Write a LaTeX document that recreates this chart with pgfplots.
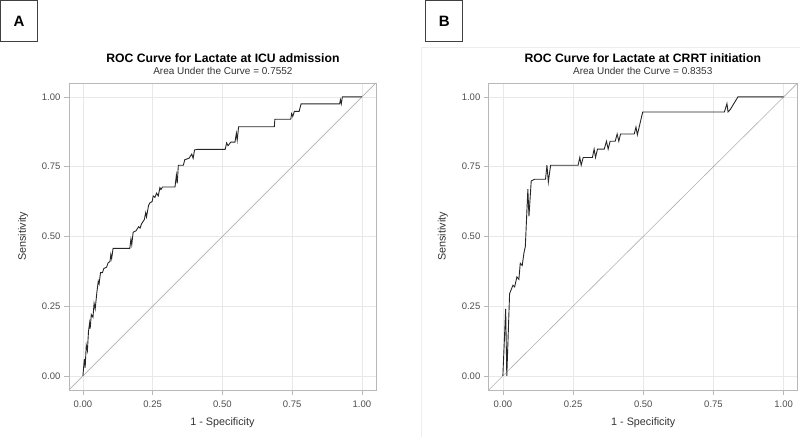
\documentclass[border=0pt]{standalone}
\usepackage{pgfplots}
\pgfplotsset{compat=1.18}
\usepackage{fontspec}
\setmainfont{Liberation Sans}
\definecolor{framecol}{HTML}{B8B8B8}
\definecolor{gridcol}{HTML}{E8E8E8}
\definecolor{tickcol}{HTML}{4D4D4D}
\definecolor{curvecol}{HTML}{262626}
\definecolor{diagcol}{HTML}{B0B0B0}
\pgfplotsset{rocstyle/.style={
  scale only axis, height=307pt,
  xmin=-0.05,xmax=1.05,ymin=-0.05,ymax=1.05,
  xtick={0,0.25,0.5,0.75,1}, ytick={0,0.25,0.5,0.75,1},
  xticklabels={0.00,0.25,0.50,0.75,1.00},
  yticklabels={0.00,0.25,0.50,0.75,1.00},
  grid=major, major grid style={gridcol, line width=0.6pt},
  axis line style={framecol, line width=0.7pt},
  tick style={framecol, line width=0.6pt},
  tick align=outside, major tick length=5pt, tick pos=left,
  tick label style={font=\fontsize{9.5}{11}\selectfont, text=tickcol},
  xticklabel style={yshift=-2pt},
  xlabel={1 - Specificity}, ylabel={Sensitivity},
  label style={font=\fontsize{10.8}{12}\selectfont, text=black!80},
  xlabel style={yshift=-4pt},
  ylabel style={yshift=7pt},
}}
\begin{document}
\begin{tikzpicture}[x=1pt,y=1pt]
\path (0,0) rectangle (800,437);
% panel B image border
\draw[black!7, line width=0.6pt] (421,0) -- (421,390) -- (800,390);
% Panel A
\begin{axis}[rocstyle, width=307pt, at={(69pt,47pt)}, anchor=south west]
\addplot[diagcol, line width=0.6pt] coordinates {(-0.05,-0.05)(1.05,1.05)};
\addplot[curvecol, line width=0.9pt] coordinates {
(0,0)(0.005,0.06)(0.008,0.03)(0.012,0.11)(0.016,0.09)(0.02,0.16)(0.024,0.19)(0.026,0.17)
(0.03,0.22)(0.036,0.21)(0.04,0.26)(0.044,0.24)(0.05,0.30)(0.055,0.34)(0.058,0.33)(0.063,0.37)
(0.07,0.37)(0.075,0.385)(0.085,0.39)(0.09,0.405)(0.097,0.41)(0.10,0.435)(0.103,0.42)(0.108,0.457)
(0.12,0.457)(0.168,0.457)(0.172,0.49)(0.175,0.47)(0.18,0.515)(0.19,0.52)(0.2,0.535)(0.205,0.53)
(0.21,0.545)(0.22,0.56)(0.225,0.585)(0.228,0.57)(0.235,0.61)(0.24,0.62)(0.248,0.625)(0.252,0.645)
(0.258,0.64)(0.264,0.655)(0.27,0.645)(0.276,0.675)(0.28,0.668)(0.285,0.677)(0.33,0.677)
(0.335,0.72)(0.338,0.69)(0.342,0.755)(0.36,0.755)(0.365,0.775)(0.38,0.78)(0.39,0.795)(0.395,0.78)
(0.40,0.81)(0.41,0.812)(0.51,0.812)(0.515,0.835)(0.52,0.825)(0.53,0.838)(0.545,0.838)(0.55,0.87)
(0.553,0.845)(0.558,0.893)(0.686,0.893)(0.688,0.92)(0.745,0.92)(0.748,0.94)(0.752,0.93)(0.758,0.948)
(0.775,0.948)(0.778,0.96)(0.782,0.975)(0.92,0.975)(0.923,0.99)(0.926,0.975)(0.93,1.0)(1,1)};
\end{axis}
% Panel B
\begin{axis}[rocstyle, width=309pt, at={(489pt,47pt)}, anchor=south west]
\addplot[diagcol, line width=0.6pt] coordinates {(-0.05,-0.05)(1.05,1.05)};
\addplot[curvecol, line width=0.9pt] coordinates {
(0,0)(0.01,0.24)(0.014,0)(0.024,0.295)(0.036,0.325)(0.042,0.319)(0.05,0.355)(0.057,0.346)
(0.062,0.404)(0.069,0.396)(0.075,0.44)(0.08,0.464)(0.089,0.669)(0.093,0.572)(0.101,0.699)
(0.113,0.705)(0.152,0.705)(0.157,0.755)(0.162,0.695)(0.170,0.755)(0.268,0.755)(0.274,0.783)
(0.279,0.755)(0.286,0.783)(0.319,0.783)(0.325,0.813)(0.33,0.783)(0.337,0.813)(0.361,0.813)
(0.369,0.841)(0.375,0.813)(0.382,0.841)(0.4,0.841)(0.407,0.867)(0.413,0.841)(0.419,0.867)
(0.468,0.867)(0.474,0.892)(0.479,0.864)(0.498,0.946)(0.789,0.946)(0.798,0.976)(0.802,0.946)
(0.81,0.955)(0.837,1.0)(1,1)};
\end{axis}
% Titles
\node[font=\bfseries\fontsize{12.2}{14}\selectfont] at (223,379) {ROC Curve for Lactate at ICU admission};
\node[font=\fontsize{10}{12}\selectfont, text=black!80] at (223,366) {Area Under the Curve = 0.7552};
\node[font=\bfseries\fontsize{12.2}{14}\selectfont] at (643,379) {ROC Curve for Lactate at CRRT initiation};
\node[font=\fontsize{10}{12}\selectfont, text=black!80] at (643,366) {Area Under the Curve = 0.8353};
% Panel letters
\draw[black!75, line width=0.8pt, fill=white] (0.4,436.6) rectangle (37,396);
\node[font=\bfseries\fontsize{15}{17}\selectfont] at (19,416) {A};
\draw[black!75, line width=0.8pt, fill=white] (426,436.6) rectangle (463,396);
\node[font=\bfseries\fontsize{15}{17}\selectfont] at (444.5,416) {B};
\end{tikzpicture}
\end{document}
